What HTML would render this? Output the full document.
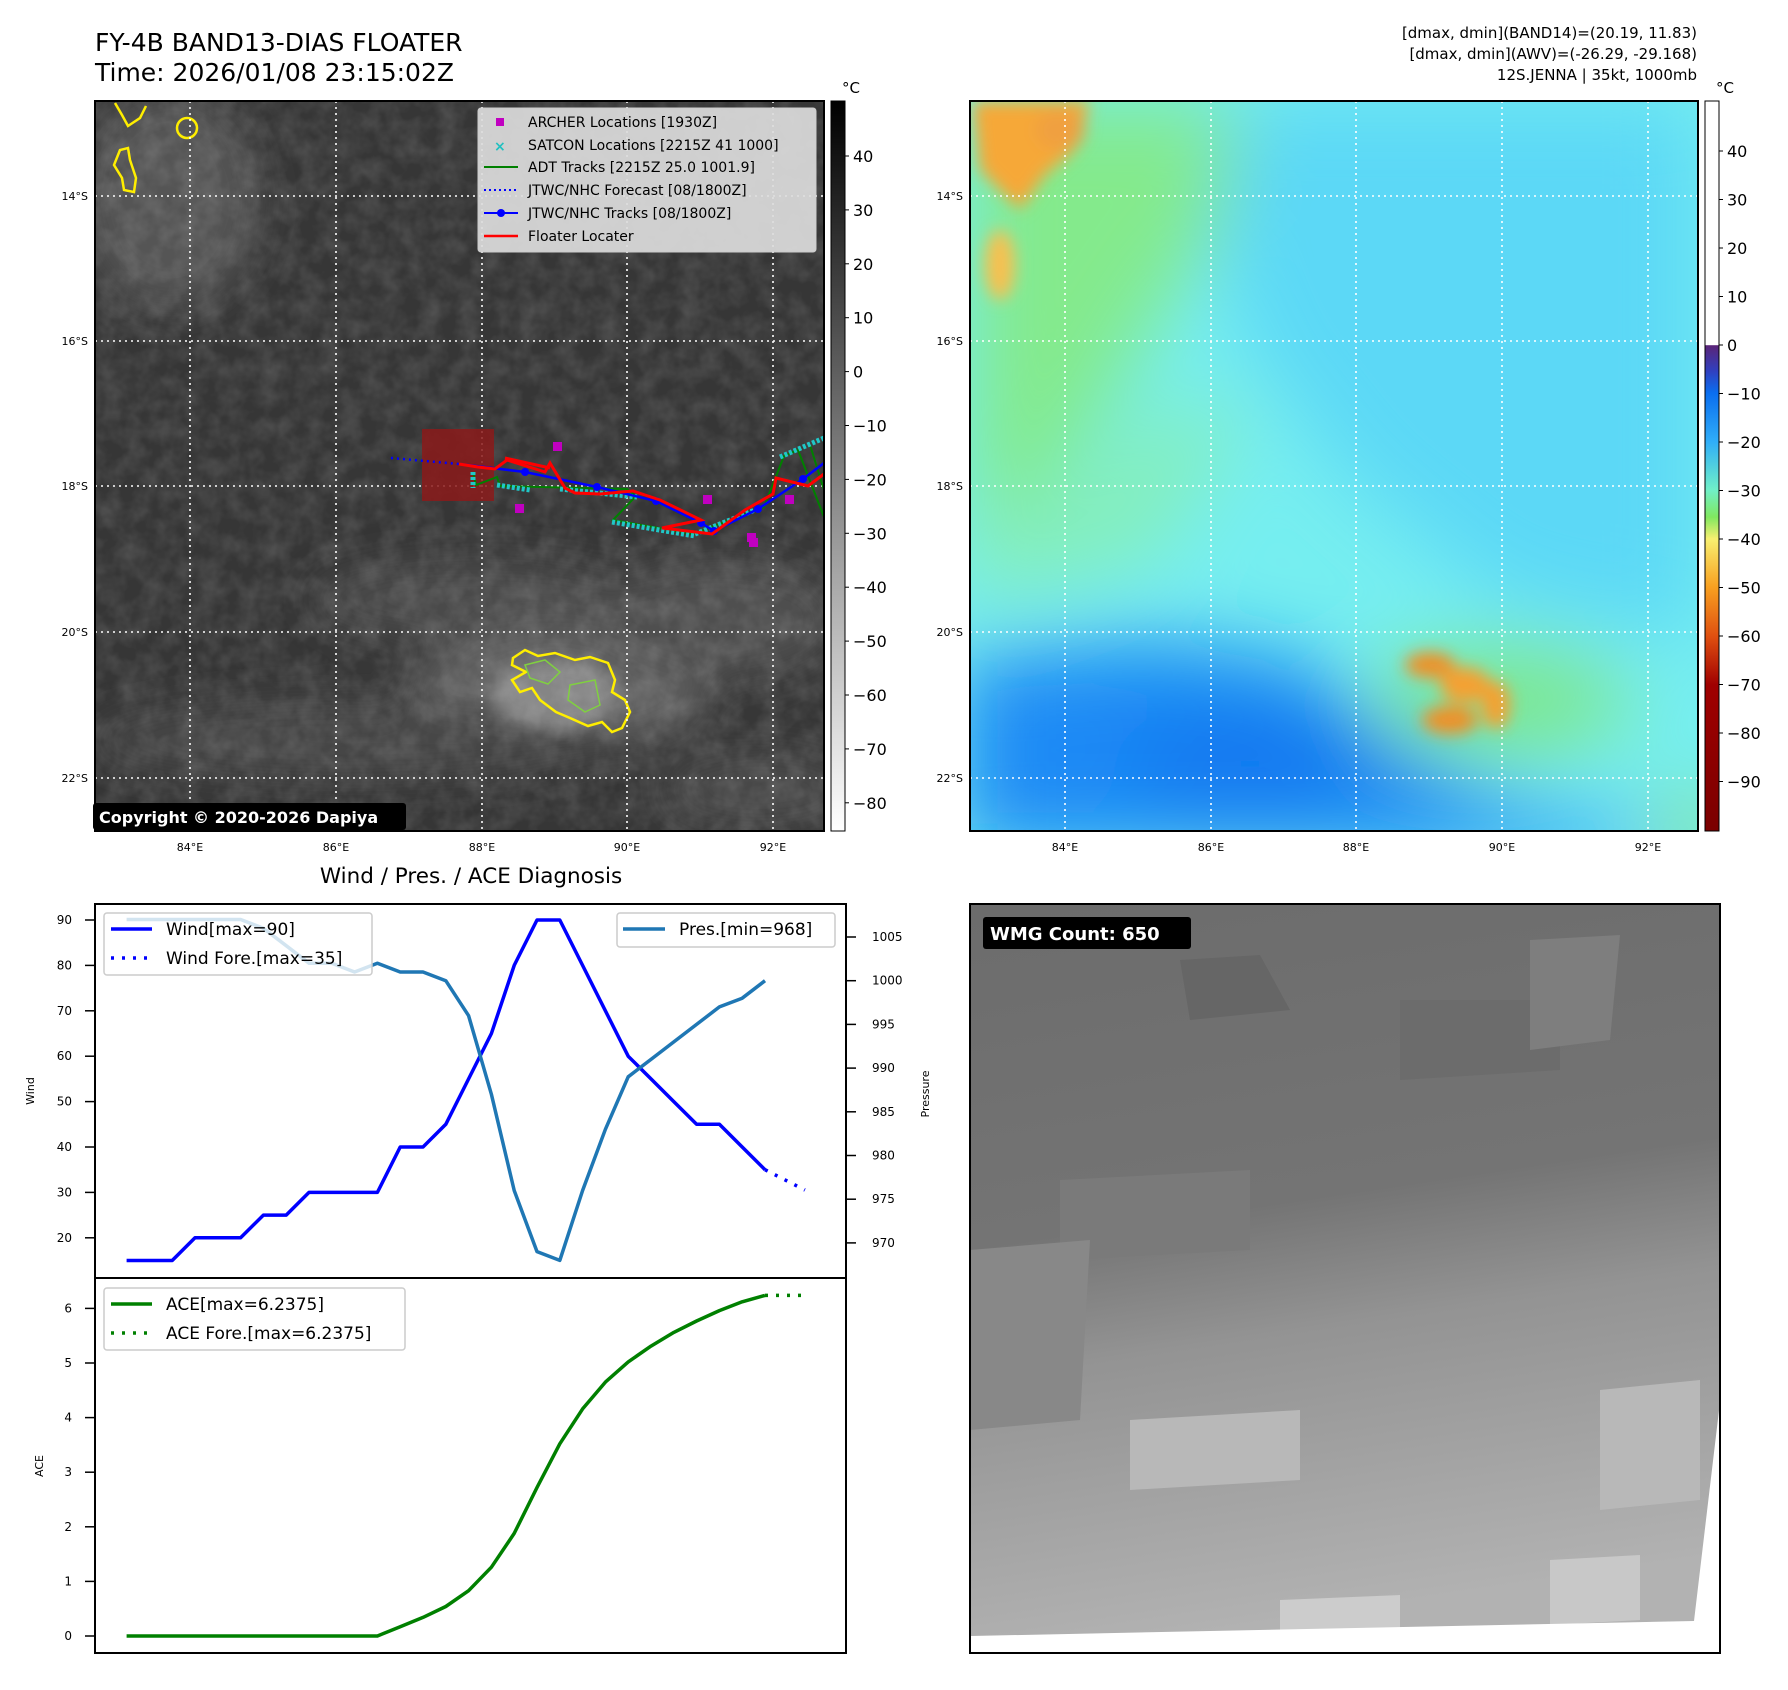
<!DOCTYPE html>
<html><head><meta charset="utf-8"><style>
html,body{margin:0;padding:0;background:#fff;}
svg{display:block;font-family:"DejaVu Sans","Liberation Sans",sans-serif;}
</style></head><body>
<svg id="root" width="1788" height="1690" viewBox="0 0 1788 1690" xmlns="http://www.w3.org/2000/svg">
<defs>
<filter id="b20" x="-50%" y="-50%" width="200%" height="200%"><feGaussianBlur stdDeviation="20"/></filter>
<filter id="b8" x="-50%" y="-50%" width="200%" height="200%"><feGaussianBlur stdDeviation="8"/></filter>
<filter id="b40" x="-50%" y="-50%" width="200%" height="200%"><feGaussianBlur stdDeviation="40"/></filter>
<filter id="tex"><feTurbulence type="fractalNoise" baseFrequency="0.05" numOctaves="3" seed="4"/><feColorMatrix type="matrix" values="0 0 0 0 1 0 0 0 0 1 0 0 0 0 1 0 0 0 0.22 -0.07"/></filter>
<clipPath id="clipL"><rect x="95" y="101" width="729" height="730"/></clipPath>
<clipPath id="clipR"><rect x="970" y="101" width="728" height="730"/></clipPath>
<clipPath id="clipB"><rect x="970" y="904" width="750" height="749"/></clipPath>
<linearGradient id="cbL" x1="0" y1="0" x2="0" y2="1"><stop offset="0" stop-color="#000"/><stop offset="1" stop-color="#fff"/></linearGradient>
<linearGradient id="cbR" x1="0" y1="0" x2="0" y2="1">
<stop offset="0" stop-color="#fff"/><stop offset="0.334" stop-color="#fff"/>
<stop offset="0.335" stop-color="#5a2478"/><stop offset="0.37" stop-color="#3040c0"/><stop offset="0.40" stop-color="#0a6ef0"/>
<stop offset="0.467" stop-color="#30aef8"/><stop offset="0.533" stop-color="#70f0c8"/><stop offset="0.57" stop-color="#80e860"/>
<stop offset="0.60" stop-color="#f8f070"/><stop offset="0.666" stop-color="#f8a020"/><stop offset="0.733" stop-color="#e05010"/>
<stop offset="0.80" stop-color="#a00000"/><stop offset="1" stop-color="#7a0000"/></linearGradient>
<linearGradient id="gB" x1="0" y1="0" x2="0.15" y2="1"><stop offset="0" stop-color="#6c6c6c"/><stop offset="0.45" stop-color="#747474"/><stop offset="0.62" stop-color="#939393"/><stop offset="1" stop-color="#b2b2b2"/></linearGradient>
</defs>

<text x="95" y="51" font-size="25">FY-4B BAND13-DIAS FLOATER</text>
<text x="95" y="81" font-size="25">Time: 2026/01/08 23:15:02Z</text>
<g font-size="15" text-anchor="end">
<text x="1697" y="38">[dmax, dmin](BAND14)=(20.19, 11.83)</text>
<text x="1697" y="59">[dmax, dmin](AWV)=(-26.29, -29.168)</text>
<text x="1697" y="80">12S.JENNA | 35kt, 1000mb</text>
</g>

<g clip-path="url(#clipL)">
<rect x="95" y="101" width="729" height="730" fill="#363636"/>
<g filter="url(#b20)">
<ellipse cx="170" cy="200" rx="90" ry="110" fill="#555"/>
<ellipse cx="480" cy="600" rx="170" ry="40" fill="#4c4c4c"/>
<ellipse cx="560" cy="690" rx="150" ry="60" fill="#626262"/>
<ellipse cx="350" cy="740" rx="260" ry="40" fill="#464646"/>
<ellipse cx="720" cy="620" rx="120" ry="60" fill="#505050"/>
<ellipse cx="760" cy="790" rx="100" ry="40" fill="#4a4a4a"/>
</g>
<ellipse cx="555" cy="695" rx="65" ry="35" fill="#858585" filter="url(#b8)"/>
<rect x="95" y="101" width="729" height="730" filter="url(#tex)"/>
<g fill="none" stroke="#ffee00" stroke-width="2.5">
<path d="M115,103 L122,115 L128,126 L140,118 L146,106"/>
<path d="M120,150 L114,165 L122,178 L124,190 L134,192 L136,178 L130,160 L128,148 Z"/>
<circle cx="187" cy="128" r="10"/>
<path d="M513,658 L525,650 L538,656 L555,653 L575,660 L590,657 L608,663 L615,680 L612,692 L625,700 L630,712 L622,728 L612,732 L602,722 L588,726 L570,718 L556,712 L540,700 L532,688 L520,692 L512,680 L526,672 L512,665 Z"/>
</g>
<g fill="none" stroke="#80d040" stroke-width="1.5"><path d="M525,665 L545,660 L560,672 L548,684 L530,678 Z"/><path d="M570,685 L595,680 L600,705 L585,712 L568,700 Z"/></g>
<g stroke="#fff" stroke-width="1.6" stroke-dasharray="2,4">
<line x1="190" y1="101" x2="190" y2="831"/><line x1="336" y1="101" x2="336" y2="831"/><line x1="482" y1="101" x2="482" y2="831"/><line x1="627" y1="101" x2="627" y2="831"/><line x1="773" y1="101" x2="773" y2="831"/>
<line x1="95" y1="196" x2="824" y2="196"/><line x1="95" y1="341" x2="824" y2="341"/><line x1="95" y1="486" x2="824" y2="486"/><line x1="95" y1="632" x2="824" y2="632"/><line x1="95" y1="778" x2="824" y2="778"/>
</g>
<rect x="422" y="429" width="72" height="72" fill="#8b1a1a" opacity="0.85"/>
<polyline points="391,458 459,464" fill="none" stroke="#0000ff" stroke-width="2.5" stroke-dasharray="2,4"/>
<g>
<polyline points="473,472 476,485 497,477 500,486 627,489 636,496 613,520 693,534 764,507 784,456 798,450 824,517" fill="none" stroke="#008000" stroke-width="2"/>
<polyline points="810,445 824,490" fill="none" stroke="#008000" stroke-width="2"/>
<path d="M473,472 L473,488 M497,485 L530,490 M560,489 L637,497 M612,522 L695,536 M695,534 L760,508 M780,457 L824,438" fill="none" stroke="#20c8c8" stroke-width="5" stroke-dasharray="3,2"/>
</g>
<polyline points="459,464 525,472 597,487 656,501 701,523 714,531 758,509 803,479 824,463" fill="none" stroke="#0000ff" stroke-width="2.5"/>
<g fill="#0000ff"><circle cx="525" cy="472" r="4"/><circle cx="597" cy="487" r="4"/><circle cx="656" cy="501" r="4"/><circle cx="701" cy="523" r="4"/><circle cx="714" cy="531" r="4"/><circle cx="758" cy="509" r="4"/><circle cx="803" cy="479" r="4"/></g>
<polyline points="459,464 478,467 495,469 507,460 545,472 550,463 565,488 575,493 600,494 633,491 660,500 701,520 662,528 712,534 745,510 773,494 776,478 808,486 824,474" fill="none" stroke="#ff0000" stroke-width="3"/>
<polyline points="505,458 550,468" fill="none" stroke="#ff0000" stroke-width="3"/>
<g fill="#c000c0">
<rect x="553" y="442" width="9" height="9"/><rect x="515" y="504" width="9" height="9"/><rect x="703" y="495" width="9" height="9"/><rect x="747" y="533" width="9" height="9"/><rect x="749" y="538" width="9" height="9"/><rect x="785" y="495" width="9" height="9"/>
</g>
</g>
<rect x="95" y="101" width="729" height="730" fill="none" stroke="#000" stroke-width="2"/>
<g>
<rect x="478" y="108" width="338" height="144" rx="3" fill="#dcdcdc" fill-opacity="0.92" stroke="#ccc"/>
<g font-size="14">
<rect x="496" y="118" width="8" height="8" fill="#c000c0"/><text x="528" y="127">ARCHER Locations [1930Z]</text>
<text x="494" y="151" fill="#20c0c0" font-weight="bold">×</text><text x="528" y="150">SATCON Locations [2215Z 41 1000]</text>
<line x1="484" y1="167" x2="518" y2="167" stroke="#008000" stroke-width="2"/><text x="528" y="172">ADT Tracks [2215Z 25.0 1001.9]</text>
<line x1="484" y1="190" x2="518" y2="190" stroke="#0000ff" stroke-width="2" stroke-dasharray="2,3"/><text x="528" y="195">JTWC/NHC Forecast [08/1800Z]</text>
<line x1="484" y1="213" x2="518" y2="213" stroke="#0000ff" stroke-width="2"/><circle cx="501" cy="213" r="4" fill="#0000ff"/><text x="528" y="218">JTWC/NHC Tracks [08/1800Z]</text>
<line x1="484" y1="236" x2="518" y2="236" stroke="#ff0000" stroke-width="2.5"/><text x="528" y="241">Floater Locater</text>
</g></g>
<g><rect x="93" y="803" width="313" height="27" rx="3" fill="#000"/><text x="99" y="823" fill="#fff" font-size="16" font-weight="bold">Copyright © 2020-2026 Dapiya</text></g>
<g font-size="11" text-anchor="end"><text x="88" y="200">14°S</text><text x="88" y="345">16°S</text><text x="88" y="490">18°S</text><text x="88" y="636">20°S</text><text x="88" y="782">22°S</text></g>
<g font-size="11" text-anchor="middle"><text x="190" y="851">84°E</text><text x="336" y="851">86°E</text><text x="482" y="851">88°E</text><text x="627" y="851">90°E</text><text x="773" y="851">92°E</text></g>
<rect x="831" y="101" width="14" height="730" fill="url(#cbL)" stroke="#000" stroke-width="1"/>
<text x="842" y="93" font-size="15">°C</text>
<g id="cbLticks" font-size="16"></g>

<g clip-path="url(#clipR)">
<rect x="970" y="101" width="728" height="730" fill="#76eef0"/>
<g filter="url(#b40)">
<polygon points="1240,101 1698,101 1698,640 1500,600 1350,480 1250,350 1200,200" fill="#5cd8f6"/>
<polygon points="970,101 1240,101 1220,230 1150,330 1080,450 1000,560 970,560" fill="#84ea8c"/>
<polygon points="970,600 1150,560 1250,400 1150,420 1050,520 970,500" fill="#86eeb8"/>
<polygon points="960,660 1150,640 1300,660 1390,740 1500,800 1640,830 1698,850 960,850" fill="#1a8af5"/>
<ellipse cx="1250" cy="760" rx="130" ry="45" fill="#0c76ef"/>
<ellipse cx="1500" cy="700" rx="130" ry="55" fill="#7ee68c"/>
<ellipse cx="1690" cy="830" rx="30" ry="30" fill="#90e060"/>
</g>
<g filter="url(#b8)">
<polygon points="972,101 1090,101 1075,150 1045,175 1020,210 1000,190 980,170" fill="#f6a838"/>
<ellipse cx="1000" cy="265" rx="15" ry="35" fill="#f8c050"/>
<ellipse cx="1060" cy="130" rx="25" ry="20" fill="#f0a040"/>
<ellipse cx="1430" cy="665" rx="25" ry="13" fill="#f09028"/>
<ellipse cx="1465" cy="685" rx="25" ry="18" fill="#f5a030"/>
<ellipse cx="1450" cy="720" rx="28" ry="14" fill="#f09028"/>
<ellipse cx="1496" cy="705" rx="14" ry="24" fill="#f5a030"/>
</g>
<g stroke="#fff" stroke-width="1.6" stroke-dasharray="2,4">
<line x1="1065" y1="101" x2="1065" y2="831"/><line x1="1211" y1="101" x2="1211" y2="831"/><line x1="1356" y1="101" x2="1356" y2="831"/><line x1="1502" y1="101" x2="1502" y2="831"/><line x1="1648" y1="101" x2="1648" y2="831"/>
<line x1="970" y1="196" x2="1698" y2="196"/><line x1="970" y1="341" x2="1698" y2="341"/><line x1="970" y1="486" x2="1698" y2="486"/><line x1="970" y1="632" x2="1698" y2="632"/><line x1="970" y1="778" x2="1698" y2="778"/>
</g></g>
<rect x="970" y="101" width="728" height="730" fill="none" stroke="#000" stroke-width="2"/>
<g font-size="11" text-anchor="end"><text x="963" y="200">14°S</text><text x="963" y="345">16°S</text><text x="963" y="490">18°S</text><text x="963" y="636">20°S</text><text x="963" y="782">22°S</text></g>
<g font-size="11" text-anchor="middle"><text x="1065" y="851">84°E</text><text x="1211" y="851">86°E</text><text x="1356" y="851">88°E</text><text x="1502" y="851">90°E</text><text x="1648" y="851">92°E</text></g>
<rect x="1705" y="101" width="14" height="730" fill="url(#cbR)" stroke="#000" stroke-width="1"/>
<text x="1716" y="93" font-size="15">°C</text>
<g id="cbRticks" font-size="16"></g>

<g clip-path="url(#clipB)">
<rect x="970" y="904" width="750" height="749" fill="url(#gB)"/>
<g>
<polygon points="1180,960 1260,955 1290,1010 1190,1020" fill="#666"/>
<polygon points="1400,1000 1560,1000 1560,1070 1400,1080" fill="#6c6c6c"/>
<polygon points="1530,940 1620,935 1610,1040 1530,1050" fill="#7e7e7e"/>
<polygon points="1060,1180 1250,1170 1250,1250 1060,1260" fill="#7a7a7a"/>
<polygon points="1130,1420 1300,1410 1300,1480 1130,1490" fill="#b8b8b8"/>
<polygon points="1600,1390 1700,1380 1700,1500 1600,1510" fill="#b8b8b8"/>
<polygon points="1550,1560 1640,1555 1640,1620 1550,1625" fill="#c8c8c8"/>
<polygon points="1280,1600 1400,1595 1400,1630 1280,1635" fill="#cccccc"/>
<polygon points="970,1250 1090,1240 1080,1420 970,1430" fill="#888"/>
</g>
<polygon points="971,1636 1694,1621 1720,1402 1720,1653 971,1653" fill="#fff"/>
</g>
<rect x="970" y="904" width="750" height="749" fill="none" stroke="#000" stroke-width="2"/>
<g><rect x="983" y="917" width="208" height="32" rx="3" fill="#000"/><text x="990" y="940" fill="#fff" font-size="18" font-weight="bold">WMG Count: 650</text></g>

<text x="471" y="883" font-size="21.5" text-anchor="middle">Wind / Pres. / ACE Diagnosis</text>
<rect x="95" y="904" width="751" height="374" fill="none" stroke="#000" stroke-width="2"/>
<rect x="95" y="1278" width="751" height="375" fill="none" stroke="#000" stroke-width="2"/>
<text transform="translate(34,1091) rotate(-90)" font-size="11" text-anchor="middle">Wind</text>
<text transform="translate(43,1466) rotate(-90)" font-size="11" text-anchor="middle">ACE</text>
<text transform="translate(929,1094) rotate(-90)" font-size="11" text-anchor="middle">Pressure</text>
<g id="axes"></g>
<g id="series"></g>
<g>
<rect x="104" y="913" width="268" height="62" rx="3" fill="#fff" fill-opacity="0.8" stroke="#ccc" stroke-width="1.5"/>
<line x1="111" y1="929" x2="152" y2="929" stroke="#0000ff" stroke-width="3.5"/><text x="166" y="935" font-size="17">Wind[max=90]</text>
<line x1="111" y1="958" x2="152" y2="958" stroke="#0000ff" stroke-width="3.5" stroke-dasharray="3,8"/><text x="166" y="964" font-size="17">Wind Fore.[max=35]</text>
</g>
<g>
<rect x="617" y="913" width="218" height="34" rx="3" fill="#fff" fill-opacity="0.8" stroke="#ccc" stroke-width="1.5"/>
<line x1="623" y1="929" x2="665" y2="929" stroke="#1f77b4" stroke-width="3.5"/><text x="679" y="935" font-size="17">Pres.[min=968]</text>
</g>
<g>
<rect x="104" y="1288" width="301" height="62" rx="3" fill="#fff" fill-opacity="0.8" stroke="#ccc" stroke-width="1.5"/>
<line x1="111" y1="1304" x2="152" y2="1304" stroke="#008000" stroke-width="3.5"/><text x="166" y="1310" font-size="17">ACE[max=6.2375]</text>
<line x1="111" y1="1333" x2="152" y2="1333" stroke="#008000" stroke-width="3.5" stroke-dasharray="3,8"/><text x="166" y="1339" font-size="17">ACE Fore.[max=6.2375]</text>
</g>
</svg>
<script>
const wind = [15,15,15,20,20,20,25,25,30,30,30,30,40,40,45,55,65,80,90,90,80,70,60,55,50,45,45,40,35];
const windForeIdx = [28,29.75];
const windFore = [35,30.5];
const pres = [1007,1007,1007,1007,1007,1007,1006,1004,1002,1002,1001,1002,1001,1001,1000,996,987,976,969,968,976,983,989,991,993,995,997,998,1000];
const ace = [0,0,0,0,0,0,0,0,0,0,0,0,0.17,0.34,0.54,0.83,1.26,1.88,2.72,3.52,4.16,4.65,5.02,5.31,5.56,5.77,5.96,6.12,6.2375];
const aceForeIdx = [28,29.75];
const aceFore = [6.2375,6.2375];
const windTicks = [20,30,40,50,60,70,80,90];
const presTicks = [970,975,980,985,990,995,1000,1005];
const aceTicks = [0,1,2,3,4,5,6];
const cbLTicks = [40,30,20,10,0,-10,-20,-30,-40,-50,-60,-70,-80];
const cbRTicks = [40,30,20,10,0,-10,-20,-30,-40,-50,-60,-70,-80,-90];

const NS='http://www.w3.org/2000/svg';
const xS = i => 126.6 + i*22.8;
const yW = v => 920 + (90-v)*4.54;
const yP = p => 937 + (1005-p)*8.74;
const yA = a => 1636 - a*54.6;
function mk(tag, attrs, parent){const e=document.createElementNS(NS,tag);for(const k in attrs)e.setAttribute(k,attrs[k]);parent.appendChild(e);return e;}
const axes=document.getElementById('axes'), series=document.getElementById('series');
function tick(x1,y,x2,lx,anchor,label,name){
  const l=mk('line',{x1:x1,y1:y,x2:x2,y2:y,stroke:'#000','stroke-width':1.5},axes);
  
  
  const t=mk('text',{x:lx,y:y+4,'font-size':12,'text-anchor':anchor},axes);
  
  
  t.textContent=label;
}
windTicks.forEach(v=>tick(85,yW(v),95,72,'end',v,'wind'));
presTicks.forEach(v=>tick(846,yP(v),856,872,'start',v,'pressure'));
aceTicks.forEach(v=>tick(85,yA(v),95,72,'end',v,'ace'));
function line(xs,ys,color,dash,name){
  const p=mk('polyline',{points:xs.map((x,i)=>x.toFixed(1)+','+ys[i].toFixed(1)).join(' '),fill:'none',stroke:color,'stroke-width':3.5,'stroke-linejoin':'round'},series);
  if(dash)p.setAttribute('stroke-dasharray',dash);
  
  
}
line(wind.map((_,i)=>xS(i)),wind.map(yW),'#0000ff',null,'wind-line');
line(windForeIdx.map(xS),windFore.map(yW),'#0000ff','3,8','wind-forecast-line');
line(pres.map((_,i)=>xS(i)),pres.map(yP),'#1f77b4',null,'pressure-line');
line(ace.map((_,i)=>xS(i)),ace.map(yA),'#008000',null,'ace-line');
line(aceForeIdx.map(xS),aceFore.map(yA),'#008000','3,8','ace-forecast-line');

function cbTicks(id,vals,x,y0,per){
  const g=document.getElementById(id);
  vals.forEach(v=>{
    const y=y0+(40-v)*per;
    const l=mk('line',{x1:x,y1:y,x2:x+4,y2:y,stroke:'#000','stroke-width':1},g);
    
    
    const t=mk('text',{x:x+8,y:y+6},g);
    
    
    t.textContent=v<0?'\u2212'+(-v):String(v);
  });
}
cbTicks('cbLticks',cbLTicks,845,156,5.39);
cbTicks('cbRticks',cbRTicks,1719,151,4.85);
</script>
</body></html>
